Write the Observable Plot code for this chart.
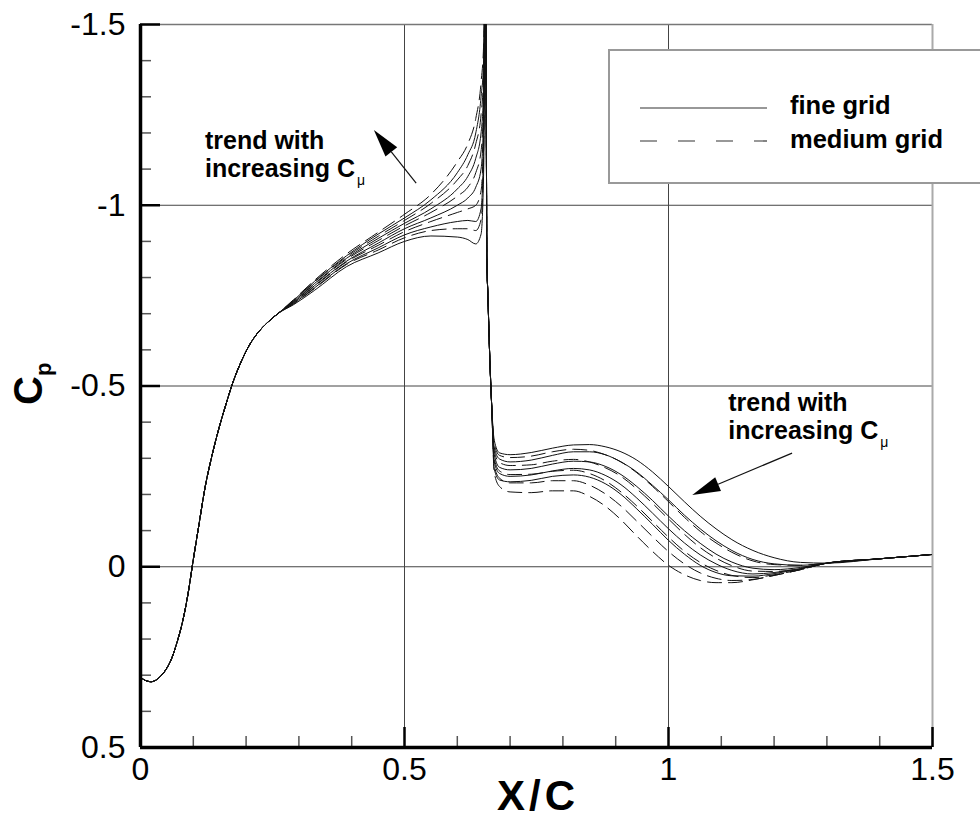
<!DOCTYPE html>
<html><head><meta charset="utf-8">
<script src="https://cdn.jsdelivr.net/npm/d3@7"></script>
<script src="https://cdn.jsdelivr.net/npm/@observablehq/plot@0.6"></script>
<style>html,body{margin:0;padding:0;background:#fff;} #chart svg{display:block}</style>
</head><body><div id="chart"></div>
<script>
// ---- axes ----
const xDomain = [0, 1.5];
const yDomain = [-1.5, 0.5];
const xMajor = [0, 0.5, 1, 1.5];
const xTickLabels = ["0", "0.5", "1", "1.5"];
const xMinor = [0.1, 0.2, 0.3, 0.4, 0.6, 0.7, 0.8, 0.9, 1.1, 1.2, 1.3, 1.4];
const yMajor = [-1.5, -1, -0.5, 0, 0.5];
const yTickLabels = ["-1.5", "-1", "-0.5", "0", "0.5"];
const yMinor = [-1.4, -1.3, -1.2, -1.1, -0.9, -0.8, -0.7, -0.6, -0.4, -0.3, -0.2, -0.1, 0.1, 0.2, 0.3, 0.4];
const xTitle = "X/C";
const legendLabels = ["fine grid", "medium grid"];

// ---- data: common leading-edge part ----
const leadX  = [0, 0.006, 0.012, 0.02, 0.03, 0.04, 0.05, 0.06, 0.07, 0.08, 0.09, 0.1, 0.11, 0.123, 0.135, 0.148, 0.162, 0.175, 0.19, 0.205, 0.221, 0.24, 0.26];
const leadCp = [0.305, 0.312, 0.316, 0.318, 0.313, 0.3, 0.28, 0.25, 0.205, 0.15, 0.075, -0.02, -0.11, -0.225, -0.305, -0.38, -0.45, -0.51, -0.565, -0.61, -0.645, -0.675, -0.7];
// ---- pre-shock stations (diverging with Cmu) ----
const preX = [0.29, 0.33, 0.39, 0.45, 0.5, 0.55, 0.6, 0.62, 0.635, 0.645, 0.65];
const fine1Pre = [-0.725, -0.765, -0.83, -0.868, -0.9, -0.915, -0.912, -0.905, -0.893, -0.92, -1.1];
const fine2Pre = [-0.728, -0.772, -0.838, -0.882, -0.918, -0.94, -0.955, -0.958, -0.955, -0.99, -1.18];
const fine3Pre = [-0.731, -0.778, -0.845, -0.895, -0.935, -0.965, -1.0, -1.02, -1.05, -1.1, -1.25];
const fine4Pre = [-0.734, -0.784, -0.853, -0.908, -0.95, -0.99, -1.045, -1.08, -1.13, -1.2, -1.32];
const fine5Pre = [-0.737, -0.79, -0.86, -0.92, -0.965, -1.015, -1.09, -1.14, -1.2, -1.3, -1.4];
const med1Pre  = [-0.727, -0.77, -0.836, -0.876, -0.91, -0.93, -0.935, -0.935, -0.93, -0.96, -1.15];
const med2Pre  = [-0.73, -0.776, -0.843, -0.889, -0.927, -0.955, -0.98, -0.99, -1.0, -1.04, -1.22];
const med3Pre  = [-0.733, -0.782, -0.85, -0.902, -0.943, -0.98, -1.025, -1.05, -1.09, -1.15, -1.3];
const med4Pre  = [-0.736, -0.788, -0.857, -0.914, -0.958, -1.005, -1.07, -1.11, -1.17, -1.25, -1.37];
const med5Pre  = [-0.739, -0.793, -0.865, -0.925, -0.975, -1.03, -1.12, -1.17, -1.24, -1.34, -1.45];
// ---- shock (common) ----
const shockX  = [0.653, 0.655, 0.656, 0.658, 0.661, 0.665];
const shockCp = [-1.7, -1.2, -0.85, -0.75, -0.6, -0.45];
// ---- post-shock stations ----
const postX = [0.67, 0.68, 0.7, 0.74, 0.78, 0.82, 0.85, 0.88, 0.91, 0.94, 0.97, 1.0, 1.03, 1.06, 1.09, 1.12, 1.16, 1.2, 1.25];
const fine1Post = [-0.35, -0.315, -0.31, -0.316, -0.328, -0.337, -0.338, -0.332, -0.318, -0.295, -0.262, -0.222, -0.18, -0.14, -0.105, -0.075, -0.045, -0.025, -0.012];
const fine2Post = [-0.33, -0.298, -0.29, -0.295, -0.308, -0.318, -0.318, -0.31, -0.29, -0.262, -0.225, -0.185, -0.143, -0.105, -0.072, -0.045, -0.02, -0.008, -0.004];
const fine3Post = [-0.31, -0.275, -0.268, -0.272, -0.284, -0.292, -0.29, -0.278, -0.255, -0.222, -0.183, -0.14, -0.1, -0.065, -0.035, -0.013, 0.004, 0.008, 0.002];
const fine4Post = [-0.29, -0.258, -0.25, -0.254, -0.265, -0.272, -0.268, -0.253, -0.227, -0.19, -0.148, -0.105, -0.066, -0.033, -0.008, 0.01, 0.02, 0.016, 0.005];
const fine5Post = [-0.27, -0.24, -0.235, -0.239, -0.25, -0.254, -0.248, -0.23, -0.2, -0.16, -0.117, -0.073, -0.035, -0.004, 0.016, 0.025, 0.026, 0.019, 0.006];
const med1Post  = [-0.34, -0.308, -0.302, -0.306, -0.318, -0.325, -0.322, -0.31, -0.29, -0.26, -0.222, -0.18, -0.137, -0.098, -0.066, -0.04, -0.016, -0.006, -0.004];
const med2Post  = [-0.32, -0.288, -0.28, -0.282, -0.292, -0.297, -0.29, -0.274, -0.25, -0.215, -0.175, -0.132, -0.09, -0.053, -0.024, -0.003, 0.012, 0.013, 0.005];
const med3Post  = [-0.3, -0.265, -0.255, -0.256, -0.264, -0.267, -0.258, -0.238, -0.207, -0.168, -0.125, -0.082, -0.043, -0.012, 0.01, 0.024, 0.03, 0.022, 0.008];
const med4Post  = [-0.28, -0.245, -0.232, -0.232, -0.238, -0.238, -0.226, -0.202, -0.168, -0.126, -0.083, -0.042, -0.008, 0.017, 0.032, 0.038, 0.035, 0.024, 0.008];
const med5Post  = [-0.26, -0.222, -0.207, -0.205, -0.21, -0.21, -0.195, -0.168, -0.13, -0.085, -0.042, -0.004, 0.022, 0.038, 0.044, 0.044, 0.036, 0.024, 0.008];
// ---- common trailing part ----
const tailX  = [1.3, 1.4, 1.5];
const tailCp = [-0.01, -0.022, -0.034];

// annotations (data coordinates)
const annotations = [
  {x: 0.123, y: -1.153, line1: "trend with", line2: "increasing C", sub: "\u03bc", from: [0.523, -1.06], to: [0.443, -1.207]},
  {x: 1.114, y: -0.429, line1: "trend with", line2: "increasing C", sub: "\u03bc", from: [1.235, -0.313], to: [1.046, -0.197]}
];

function build(id, pre, post) {
  const pts = [];
  leadX.forEach((x, i) => pts.push({id, x, cp: leadCp[i]}));
  preX.forEach((x, i) => pts.push({id, x, cp: pre[i]}));
  shockX.forEach((x, i) => pts.push({id, x, cp: shockCp[i]}));
  postX.forEach((x, i) => pts.push({id, x, cp: post[i]}));
  tailX.forEach((x, i) => pts.push({id, x, cp: tailCp[i]}));
  return pts;
}
const fineData = [
  ...build("f1", fine1Pre, fine1Post), ...build("f2", fine2Pre, fine2Post), ...build("f3", fine3Pre, fine3Post),
  ...build("f4", fine4Pre, fine4Post), ...build("f5", fine5Pre, fine5Post)
];
const medData = [
  ...build("m1", med1Pre, med1Post), ...build("m2", med2Pre, med2Post), ...build("m3", med3Pre, med3Post),
  ...build("m4", med4Pre, med4Post), ...build("m5", med5Pre, med5Post)
];

const FONT = "'Liberation Sans', Arial, Helvetica, sans-serif";
const x0 = xDomain[0], x1 = xDomain[1], yTop = yDomain[0], yBot = yDomain[1];

const plot = Plot.plot({
  width: 980, height: 822,
  marginLeft: 140, marginRight: 48, marginTop: 24, marginBottom: 75,
  style: {fontFamily: FONT, background: "white", overflow: "visible"},
  x: {domain: xDomain, axis: null},
  y: {domain: yDomain, reverse: true, axis: null},
  marks: [
    Plot.ruleX(xMajor.filter(d => d !== x0 && d !== x1), {stroke: "#444", strokeWidth: 1}),
    Plot.ruleY(yMajor.filter(d => d !== yTop && d !== yBot), {stroke: "#444", strokeWidth: 1}),
    Plot.ruleY([yTop], {stroke: "#777", strokeWidth: 1.5}),
    Plot.ruleX([x1], {stroke: "#aaa", strokeWidth: 2}),
    Plot.line(fineData, {x: "x", y: "cp", z: "id", stroke: "#111", strokeWidth: 1, curve: "monotone-x", clip: true}),
    Plot.line(medData, {x: "x", y: "cp", z: "id", stroke: "#111", strokeWidth: 1, strokeDasharray: "14,7", curve: "monotone-x", clip: true}),
    // minor ticks (inward)
    Plot.ruleX(xMinor, {y1: yBot, y2: yBot, insetBottom: 11, stroke: "#555", strokeWidth: 1.5}),
    Plot.ruleY(yMinor, {x1: x0, x2: x0, insetRight: -11, stroke: "#555", strokeWidth: 1.5}),
    // major ticks (inward)
    Plot.ruleX(xMajor, {y1: yBot, y2: yBot, insetBottom: 20, stroke: "#000", strokeWidth: 2.5}),
    Plot.ruleY(yMajor, {x1: x0, x2: x0, insetRight: -20, stroke: "#000", strokeWidth: 2.5}),
    // axis lines
    Plot.ruleX([x0], {stroke: "#000", strokeWidth: 3.5}),
    Plot.ruleY([yBot], {stroke: "#000", strokeWidth: 3.5}),
    // tick labels
    Plot.text(xMajor, {x: d => d, y: yBot, dy: 22, text: (d, i) => xTickLabels[i], fontSize: 32, fill: "#000"}),
    Plot.text(yMajor, {x: x0, y: d => d, dx: -15, textAnchor: "end", text: (d, i) => yTickLabels[i], fontSize: 32, fill: "#000"})
  ]
});

document.getElementById("chart").appendChild(plot);
const svg = d3.select(plot);
const sx = plot.scale("x"), sy = plot.scale("y");

// x title
svg.append("text")
  .attr("x", (sx.apply(x0) + sx.apply(x1)) / 2 + 2).attr("y", 810)
  .attr("text-anchor", "middle").attr("letter-spacing", 4)
  .attr("font-family", FONT).attr("font-weight", "bold").attr("font-size", 42).attr("fill", "#000")
  .text(xTitle);

// y title Cp
const yt = svg.append("text")
  .attr("transform", "translate(42,405) rotate(-90)")
  .attr("text-anchor", "start")
  .attr("font-family", FONT).attr("font-weight", "bold").attr("font-size", 40).attr("fill", "#000");
yt.append("tspan").text("C");
yt.append("tspan").attr("font-size", 22).attr("dy", 9).text("p");

// annotations
for (const a of annotations) {
  const px = sx.apply(a.x), py = sy.apply(a.y);
  const g = svg.append("g").attr("text-anchor", "start").attr("font-family", FONT).attr("font-weight", "bold").attr("font-size", 25).attr("fill", "#000");
  g.append("text").attr("x", px).attr("y", py).text(a.line1);
  const t2 = g.append("text").attr("x", px).attr("y", py + 28);
  t2.append("tspan").text(a.line2);
  t2.append("tspan").attr("font-size", 14).attr("font-weight", "normal").attr("dx", 2).attr("dy", 8).text(a.sub);
  const fx = sx.apply(a.from[0]), fy = sy.apply(a.from[1]);
  const tx = sx.apply(a.to[0]), ty = sy.apply(a.to[1]);
  const dx = tx - fx, dy = ty - fy, L = Math.hypot(dx, dy);
  const ux = dx / L, uy = dy / L, len = 28, hw = 7.5;
  const bx = tx - ux * len, by = ty - uy * len;
  svg.append("line").attr("x1", fx).attr("y1", fy).attr("x2", bx).attr("y2", by).attr("stroke", "#111").attr("stroke-width", 1.2);
  svg.append("path")
    .attr("d", `M${tx},${ty}L${bx - uy * hw},${by + ux * hw}L${bx + uy * hw},${by - ux * hw}Z`)
    .attr("fill", "#000");
}

// legend box
const lg = svg.append("g").attr("font-family", FONT).attr("text-anchor", "start");
lg.append("rect").attr("x", 609).attr("y", 50).attr("width", 380).attr("height", 133)
  .attr("fill", "white").attr("stroke", "#999").attr("stroke-width", 2);
lg.append("line").attr("x1", 640).attr("x2", 767).attr("y1", 108).attr("y2", 108).attr("stroke", "#333").attr("stroke-width", 1.2);
lg.append("line").attr("x1", 640).attr("x2", 767).attr("y1", 141).attr("y2", 141).attr("stroke", "#333").attr("stroke-width", 1.2).attr("stroke-dasharray", "17,21");
lg.append("text").attr("x", 790).attr("y", 114).attr("font-size", 25.5).attr("font-weight", "bold").text(legendLabels[0]);
lg.append("text").attr("x", 790).attr("y", 148).attr("font-size", 25.5).attr("font-weight", "bold").text(legendLabels[1]);
</script>
</body></html>
